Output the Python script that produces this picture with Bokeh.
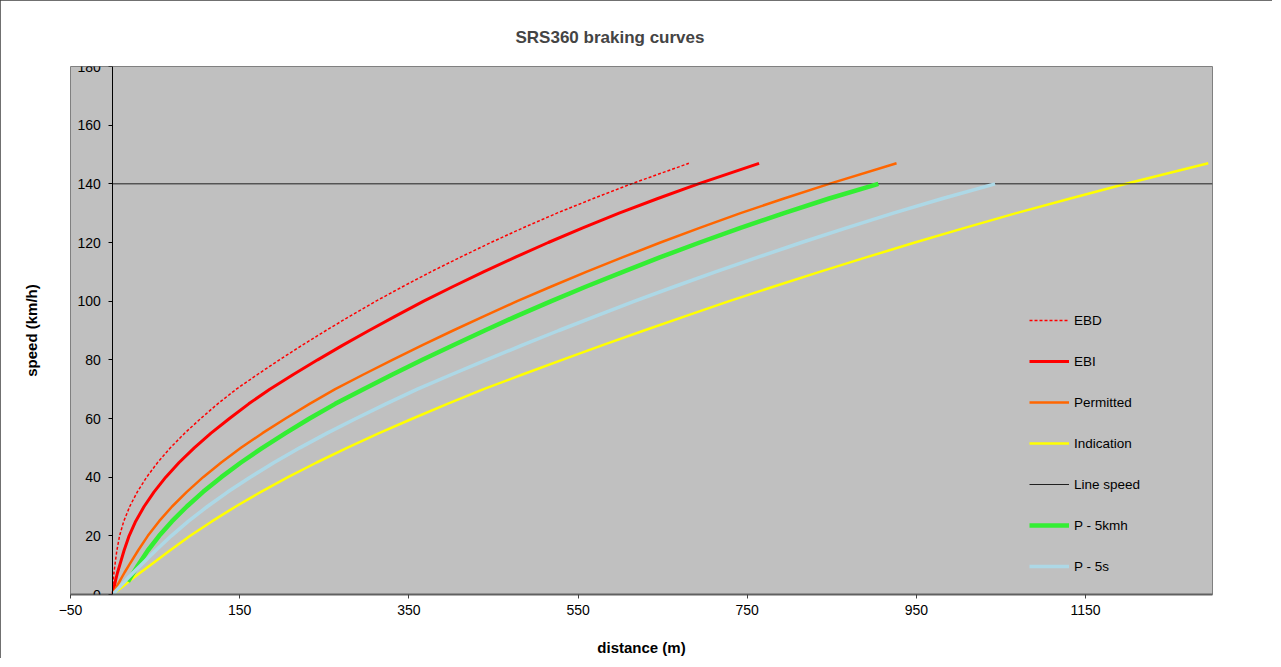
from bokeh.plotting import figure
from bokeh.models import FixedTicker, Title, Legend, LegendItem, LinearAxis
from bokeh.embed import file_html
from bokeh.resources import INLINE

# ---- data: speed (km/h) vs distance (m) ----
ebd_v = [0, 1, 2.5, 5, 7.5, 10, 15, 20, 25, 30, 35, 40, 45, 50, 55, 60, 65, 70, 75, 80,
         85, 90, 95, 100, 105, 110, 115, 120, 125, 130, 135, 140, 147]
ebd_d = [0, 0.03, 0.15, 0.6, 1.4, 2.5, 4.8, 8, 13, 20, 29, 40, 53, 68, 85, 104, 124, 146, 171, 197,
         224, 252, 281, 311, 343, 376, 411, 447, 485, 525, 568, 613, 681]

ebi_v = [0, 1, 2.5, 5, 7.5, 10, 15, 20, 25, 30, 35, 40, 45, 50, 55, 60, 65, 70, 75, 80,
         85, 90, 95, 100, 105, 110, 115, 120, 125, 130, 135, 140, 147]
ebi_d = [0, 0.6, 1.56, 3.4, 5.6, 8.2, 13.3, 19.3, 27.1, 37, 48.8, 62.6, 78.4, 96.3, 116.1, 137.9,
         160.7, 185.6, 213.4, 242.2, 272, 302.9, 334.7, 367.5, 402.3, 438.2, 476, 514.8, 555.6,
         598.5, 644.3, 692.1, 764]

perm_v = [0, 1, 2.5, 5, 7.5, 10, 15, 20, 25, 30, 35, 40, 45, 50, 55, 60, 65, 70, 75, 80,
          85, 90, 95, 100, 105, 110, 115, 120, 125, 130, 135, 140, 147]
perm_d = [0, 1.7, 4.3, 9, 13.9, 19.2, 29.9, 41.4, 54.8, 70.1, 87.5, 106.8, 128.2, 151.5, 176.9,
          204.2, 232.6, 262.9, 296.3, 330.6, 366, 402.3, 439.7, 478, 518.4, 559.7, 603.1, 647.4,
          693.8, 742.1, 793.5, 846.8, 926.5]

ind_v = [0, 2.5, 5, 7.5, 10, 15, 20, 25, 30, 35, 40, 45, 50, 55, 60, 65, 70, 75, 80,
         85, 90, 95, 100, 105, 110, 115, 120, 125, 130, 135, 140, 147]
ind_d = [0, 10.6, 21.5, 32.7, 44.3, 67.5, 91.5, 117.5, 145.3, 175.2, 207.1, 241, 276.9, 314.8,
         354.6, 395.6, 438.4, 484.3, 531.2, 579.1, 628, 677.9, 728.7, 781.6, 835.5, 891.4, 948.2,
         1007.2, 1068, 1131.9, 1197.8, 1295]

line_speed_d = [0, 1300]
line_speed_v = [140, 140]

p5kmh_v = [4.4, 5, 10, 15, 20, 25, 30, 35, 40, 45, 50, 55, 60, 65, 70, 75, 80, 85, 90, 95,
           100, 105, 110, 115, 120, 125, 130, 135, 140]
p5kmh_d = [18, 19.2, 29.9, 41.4, 54.8, 70.1, 87.5, 106.8, 128.2, 151.5, 176.9, 204.2, 232.6,
           262.9, 296.3, 330.6, 366, 402.3, 439.7, 478, 518.4, 559.7, 603.1, 647.4, 693.8, 742.1,
           793.5, 846.8, 905]

p5s_v = [0, 2.5, 5, 7.5, 10, 15, 20, 25, 30, 35, 40, 45, 50, 55, 60, 65, 70, 75, 80,
         85, 90, 95, 100, 105, 110, 115, 120, 125, 130, 135, 140]
p5s_d = [0, 7.8, 15.9, 24.3, 33.1, 50.7, 69.2, 89.5, 111.8, 136.1, 162.4, 190.7, 221, 253.3,
         287.5, 322.9, 360.1, 400.5, 441.7, 484.1, 527.3, 571.7, 616.9, 664.2, 712.5, 762.8,
         814.1, 867.4, 922.7, 981, 1043]

x_ticks = [-50, 150, 350, 550, 750, 950, 1150]
y_ticks = [0, 20, 40, 60, 80, 100, 120, 140, 160, 180]

FONT = "Liberation Sans"

p = figure(width=1272, height=658, x_range=(-50, 1300), y_range=(0, 180),
           output_backend="svg", toolbar_location=None,
           min_border_left=70, min_border_right=60, min_border_top=66, min_border_bottom=63,
           background_fill_color="#C0C0C0", border_fill_color="white")
p.styles = {"outline": "1px solid #404040", "outline-offset": "-1px"}
p.outline_line_color = "#808080"
p.outline_line_width = 1
p.xgrid.visible = False
p.ygrid.visible = False

r_ebd = p.line(ebd_d, ebd_v, line_color="#FF0000", line_width=1.5, line_dash="3 2")
r_ebi = p.line(ebi_d, ebi_v, line_color="#FF0000", line_width=3)
r_perm = p.line(perm_d, perm_v, line_color="#FF6600", line_width=2.5)
r_ind = p.line(ind_d, ind_v, line_color="#FFFF00", line_width=2.5)
r_ls = p.line(line_speed_d, line_speed_v, line_color="#202020", line_width=1)
r_p5k = p.line(p5kmh_d, p5kmh_v, line_color="#33EE33", line_width=4.5)
r_p5s = p.line(p5s_d, p5s_v, line_color="#ADD8E6", line_width=3.5)

# x axis (bottom) with its title
xa = p.xaxis[0]
xa.ticker = FixedTicker(ticks=x_ticks)
xa.axis_line_color = "#606060"
xa.axis_line_width = 2
xa.major_tick_in = 0
xa.major_tick_out = 4
xa.major_tick_line_color = "#404040"
xa.minor_tick_line_color = None
xa.major_label_text_font = FONT
xa.major_label_text_font_size = "14px"
xa.major_label_text_color = "black"
xa.major_label_standoff = 6
xa.axis_label = "distance (m)"
xa.axis_label_text_font = FONT
xa.axis_label_text_font_size = "15px"
xa.axis_label_text_font_style = "bold"
xa.axis_label_text_color = "black"
xa.axis_label_standoff = 21

# y axis crossing at x = 0
ya = p.yaxis[0]
ya.fixed_location = 0
ya.ticker = FixedTicker(ticks=y_ticks)
ya.axis_line_color = "black"
ya.axis_line_width = 1
ya.major_tick_in = 0
ya.major_tick_out = 4
ya.major_tick_line_color = "black"
ya.minor_tick_line_color = None
ya.major_label_text_font = FONT
ya.major_label_text_font_size = "14px"
ya.major_label_text_color = "black"
ya.major_label_standoff = 8

# y axis title carried by a tick-less axis at the left edge of the plot area
ytitle_axis = LinearAxis(ticker=FixedTicker(ticks=[]), axis_label="speed (km/h)",
                         axis_line_color=None, major_tick_line_color=None,
                         minor_tick_line_color=None, major_label_text_font_size="0px",
                         axis_label_text_font=FONT, axis_label_text_font_size="15px",
                         axis_label_text_font_style="bold", axis_label_text_color="black",
                         axis_label_standoff=31)
p.add_layout(ytitle_axis, "left")

# chart title
t = Title(text="SRS360 braking curves", align="left", offset=445,
          text_font=FONT, text_font_size="17px", text_font_style="bold", standoff=39)
p.add_layout(t, "above")

legend = Legend(items=[
    LegendItem(label="EBD", renderers=[r_ebd]),
    LegendItem(label="EBI", renderers=[r_ebi]),
    LegendItem(label="Permitted", renderers=[r_perm]),
    LegendItem(label="Indication", renderers=[r_ind]),
    LegendItem(label="Line speed", renderers=[r_ls]),
    LegendItem(label="P - 5kmh", renderers=[r_p5k]),
    LegendItem(label="P - 5s", renderers=[r_p5s]),
], location=(959, 18))
legend.background_fill_alpha = 0
legend.border_line_color = None
legend.padding = 0
legend.margin = 0
legend.spacing = 21
legend.glyph_width = 40
legend.glyph_height = 20
legend.label_height = 20
legend.label_standoff = 5
legend.label_text_font = FONT
legend.label_text_font_size = "13.5px"
legend.label_text_color = "black"
p.add_layout(legend)

open("out.html", "w").write(file_html(p, INLINE))
